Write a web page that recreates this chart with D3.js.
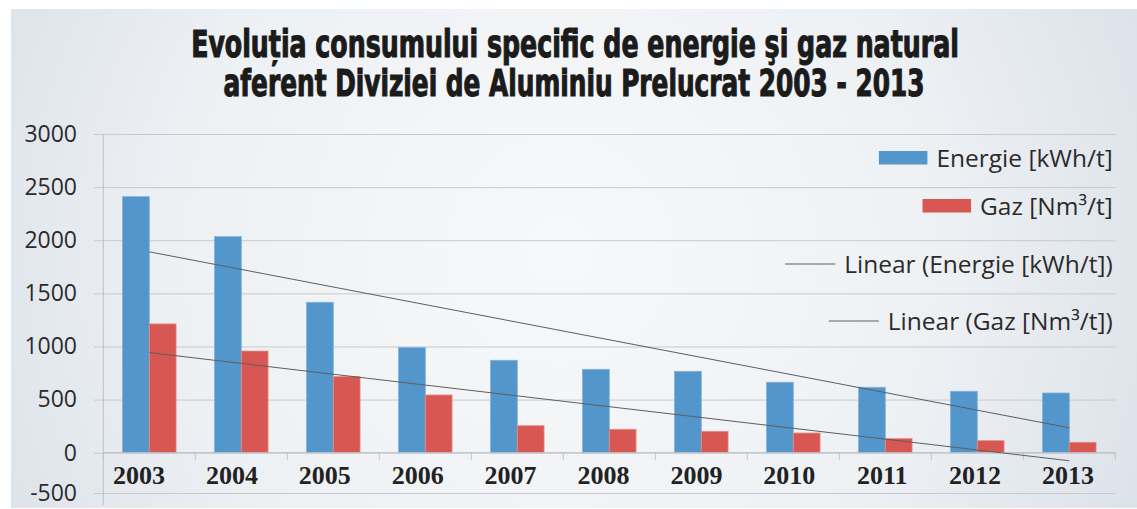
<!DOCTYPE html>
<html>
<head>
<meta charset="utf-8">
<script src="https://cdn.jsdelivr.net/npm/d3@7"></script>
<style>
    html, body { margin: 0; padding: 0; background: #ffffff; }
    svg { display: block; }
</style>
</head>
<body>
<div class="chart"></div>
<script>
// data
const years = ["2003", "2004", "2005", "2006", "2007", "2008", "2009", "2010", "2011", "2012", "2013"];
const energie = [2410, 2034, 1416, 989, 870, 785, 766, 663, 616, 578, 562];
const gaz = [1212, 957, 716, 543, 254, 220, 201, 185, 132, 113, 98];
const yTicks = [-500, 0, 500, 1000, 1500, 2000, 2500, 3000];
const seriesNames = ["Energie [kWh/t]", "Gaz [Nm³/t]"];
const titleLines = [
    "Evoluția consumului specific de energie şi gaz natural",
    "aferent Diviziei de Aluminiu Prelucrat 2003 - 2013"
];

(function () {
    const w = 1137;
    const h = 509;
    const blue = "#5396cb";
    const red = "#d85752";
    const trendColor = "#5e5e5e";

    const svg = d3.select(".chart")
        .append("svg")
            .attr("width", w)
            .attr("height", h);

    // background panel with soft radial light
    const grad = svg.append("defs")
        .append("radialGradient")
            .attr("id", "bg")
            .attr("gradientUnits", "userSpaceOnUse")
            .attr("cx", 560)
            .attr("cy", 250)
            .attr("r", 620);
    grad.append("stop").attr("offset", "0%").attr("stop-color", "#f7f8f9");
    grad.append("stop").attr("offset", "60%").attr("stop-color", "#eef1f4");
    grad.append("stop").attr("offset", "100%").attr("stop-color", "#dde3ea");

    svg.append("rect")
        .attr("x", 11)
        .attr("y", 9)
        .attr("width", w - 11)
        .attr("height", h - 10)
        .attr("fill", "url(#bg)");

    // title - bold face squeezed sideways to look like the condensed headline font
    const titleWidths = [768, 701];
    const titleCenters = [575, 574];
    const titleBase = [57, 96];
    svg.selectAll("text.title")
        .data(titleLines)
        .enter()
        .append("text")
            .attr("class", "title")
            .text(d => d)
            .attr("x", 0)
            .attr("y", 0)
            .attr("text-anchor", "middle")
            .style("font-family", "'DejaVu Sans Condensed', 'DejaVu Sans'")
            .style("font-weight", "bold")
            .style("font-size", "37px")
            .style("fill", "#1b1b1b")
            .style("stroke", "#1b1b1b")
            .style("stroke-width", "1.1px")
        .each(function (d, i) {
            const sx = titleWidths[i] / this.getComputedTextLength();
            d3.select(this).attr("transform",
                "translate(" + titleCenters[i] + "," + titleBase[i] + ") scale(" + sx + ",1)");
        });

    // scales
    const left = 103.3;
    const right = 1115.3;
    const x = d3.scaleBand()
        .domain(years)
        .range([left, right])
        .padding(0);
    const x1 = d3.scaleBand()
        .domain(seriesNames)
        .range([0, x.bandwidth()])
        .paddingInner(0)
        .paddingOuter(0.72);
    // the -500 row sits closer than the rest in the original
    const y = d3.scaleLinear()
        .domain([-500, 0, 3000])
        .range([493, 452.7, 134]);
    const labelX = d3.scalePoint()
        .domain(years)
        .range([139, 1068]);

    // gridlines
    svg.append("g")
        .attr("transform", "translate(94,0)")
        .call(d3.axisRight(y).tickValues(yTicks).tickSize(right - 94).tickFormat(""))
        .call(g => g.select(".domain").remove())
        .call(g => g.selectAll("line").attr("stroke", "#c6cacf").attr("stroke-width", 1));

    // y labels
    svg.append("g")
        .attr("transform", "translate(94,0)")
        .call(d3.axisLeft(y).tickValues(yTicks).tickSize(0).tickPadding(17).tickFormat(d => String(d)))
        .call(g => g.select(".domain").remove())
        .call(g => g.selectAll("text")
            .style("font-family", "'Open Sans', sans-serif")
            .style("font-size", "23px")
            .style("fill", "#2b2b2b"));

    // vertical axis line
    svg.append("line")
        .attr("x1", left).attr("x2", left)
        .attr("y1", y(3000)).attr("y2", 505)
        .attr("stroke", "#bdc1c6");

    // bars
    const groups = svg.selectAll("g.year")
        .data(years)
        .enter()
        .append("g")
            .attr("class", "year")
            .attr("transform", d => "translate(" + x(d) + ",0)");

    groups.append("rect")
        .attr("x", x1(seriesNames[0]))
        .attr("y", (d, i) => y(energie[i]))
        .attr("width", x1.bandwidth())
        .attr("height", (d, i) => y(0) - y(energie[i]))
        .attr("fill", blue)
        .attr("stroke", "#7fb2dc")
        .attr("stroke-width", 0.8);

    groups.append("rect")
        .attr("x", x1(seriesNames[1]))
        .attr("y", (d, i) => y(gaz[i]))
        .attr("width", x1.bandwidth())
        .attr("height", (d, i) => y(0) - y(gaz[i]))
        .attr("fill", red)
        .attr("stroke", "#e58a85")
        .attr("stroke-width", 0.8);

    // x axis line with ticks on the category boundaries
    svg.append("line")
        .attr("x1", left).attr("x2", right)
        .attr("y1", y(0)).attr("y2", y(0))
        .attr("stroke", "#bdc1c6");
    svg.selectAll("line.xtick")
        .data(years.concat(["end"]))
        .enter()
        .append("line")
            .attr("class", "xtick")
            .attr("x1", d => d === "end" ? right : x(d))
            .attr("x2", d => d === "end" ? right : x(d))
            .attr("y1", y(0))
            .attr("y2", y(0) + 7)
            .attr("stroke", "#bdc1c6");

    svg.selectAll("text.xlab")
        .data(years)
        .enter()
        .append("text")
            .attr("class", "xlab")
            .text(d => d)
            .attr("x", d => labelX(d))
            .attr("y", 483.5)
            .attr("text-anchor", "middle")
            .style("font-family", "'Liberation Serif', serif")
            .style("font-weight", "bold")
            .style("font-size", "26px")
            .style("fill", "#222");

    // linear trend lines (least squares on the index)
    function fit(vals) {
        const n = vals.length;
        const mx = d3.mean(vals, (v, i) => i);
        const my = d3.mean(vals);
        const sxy = d3.sum(vals, (v, i) => (i - mx) * (v - my));
        const sxx = d3.sum(vals, (v, i) => (i - mx) * (i - mx));
        const b = sxy / sxx;
        return [0, n - 1].map(i => ({year: years[i], v: my + b * (i - mx)}));
    }
    const trendLine = d3.line()
        .x(d => x(d.year) + x.bandwidth() / 2)
        .y(d => y(d.v));

    [energie, gaz].forEach(vals => {
        svg.append("path")
            .attr("d", trendLine(fit(vals)))
            .attr("stroke", trendColor)
            .attr("stroke-width", 1)
            .attr("fill", "none");
    });

    // legend
    const legendRight = 1112.7;
    const legendItems = [
        {label: seriesNames[0], type: "box", color: blue, cy: 158},
        {label: seriesNames[1], type: "box", color: red, cy: 206},
        {label: "Linear (" + seriesNames[0] + ")", type: "line", color: trendColor, cy: 264},
        {label: "Linear (" + seriesNames[1] + ")", type: "line", color: trendColor, cy: 321}
    ];
    const leg = svg.selectAll("g.leg")
        .data(legendItems)
        .enter()
        .append("g")
            .attr("class", "leg");

    leg.append("text")
        .text(d => d.label)
        .attr("x", legendRight)
        .attr("y", d => d.cy)
        .attr("dy", ".35em")
        .attr("text-anchor", "end")
        .style("font-family", "'Open Sans', sans-serif")
        .style("font-size", "24.5px")
        .style("fill", "#2b2b2b");

    leg.each(function (d) {
        const g = d3.select(this);
        const tw = g.select("text").node().getComputedTextLength();
        const x0 = legendRight - tw - 9;
        if (d.type === "box") {
            g.append("rect")
                .attr("x", x0 - 48.5)
                .attr("y", d.cy - 7)
                .attr("width", 48.5)
                .attr("height", 13.5)
                .attr("fill", d.color);
        } else {
            g.append("line")
                .attr("x1", x0 - 50)
                .attr("x2", x0)
                .attr("y1", d.cy)
                .attr("y2", d.cy)
                .attr("stroke", d.color)
                .attr("stroke-width", 1);
        }
    });
})();
</script>
</body>
</html>
